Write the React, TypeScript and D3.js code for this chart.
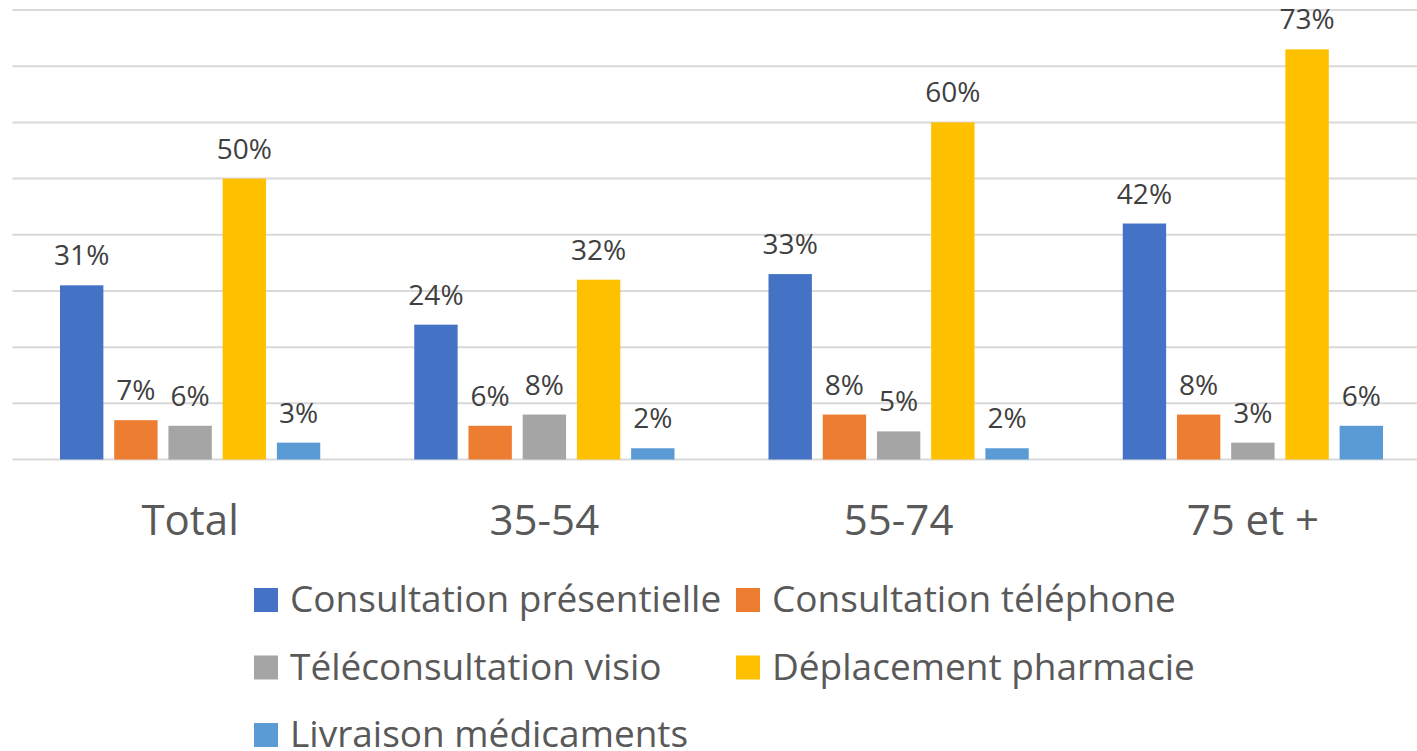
import React from "react";
import * as d3 from "d3";

const categories = ["Total", "35-54", "55-74", "75 et +"];
const seriesNames = [
  "Consultation présentielle",
  "Consultation téléphone",
  "Téléconsultation visio",
  "Déplacement pharmacie",
  "Livraison médicaments",
];
const consultationPresentielle = [31, 24, 33, 42];
const consultationTelephone = [7, 6, 8, 8];
const teleconsultationVisio = [6, 8, 5, 3];
const deplacementPharmacie = [50, 32, 60, 73];
const livraisonMedicaments = [3, 2, 2, 6];
const seriesValues = [
  consultationPresentielle,
  consultationTelephone,
  teleconsultationVisio,
  deplacementPharmacie,
  livraisonMedicaments,
];
const colors = ["#4472C4", "#ED7D31", "#A5A5A5", "#FFC000", "#5B9BD5"];
const gridTicks = [0, 10, 20, 30, 40, 50, 60, 70, 80];

const W = 1417;
const H = 751;
const FONT = "'Open Sans', 'Noto Sans', sans-serif";

export default function App() {
  const x0 = d3.scaleBand<string>().domain(categories).range([13, 1430]).paddingInner(0).paddingOuter(0);
  const x1 = d3
    .scaleBand<number>()
    .domain(d3.range(seriesNames.length))
    .range([47, x0.bandwidth() - 47])
    .paddingInner(0.2)
    .paddingOuter(0);
  const y = d3.scaleLinear().domain([0, 80]).range([459.5, 10]);

  const legendItems = [
    { i: 0, x: 254, row: 0 },
    { i: 1, x: 736, row: 0 },
    { i: 2, x: 254, row: 1 },
    { i: 3, x: 736, row: 1 },
    { i: 4, x: 254, row: 2 },
  ];

  return (
    <svg
      width={W}
      height={H}
      style={{ position: "absolute", left: 0, top: 0, background: "#fff" }}
      fontFamily={FONT}
    >
      <rect width={W} height={H} fill="#fff" />
      {gridTicks.map((t) => (
        <line key={t} x1={12.5} x2={W} y1={y(t)} y2={y(t)} stroke="#D9D9D9" strokeWidth={2} />
      ))}
      {categories.map((c, ci) => (
        <g key={c} transform={`translate(${x0(c)},0)`}>
          {seriesValues.map((vals, si) => {
            const v = vals[ci];
            const bx = x1(si)!;
            return (
              <g key={si}>
                <rect x={bx} y={y(v)} width={x1.bandwidth()} height={y(0) - y(v)} fill={colors[si]} />
                <text
                  x={bx + x1.bandwidth() / 2}
                  y={y(v) - 20}
                  textAnchor="middle"
                  fontSize={28}
                  fill="#404040"
                >
                  {v}%
                </text>
              </g>
            );
          })}
          <text x={x0.bandwidth() / 2} y={535} textAnchor="middle" fontSize={42} fill="#595959">
            {c}
          </text>
        </g>
      ))}
      {legendItems.map((it) => {
        const ly = 600 + it.row * 67.5;
        return (
          <g key={it.i}>
            <rect x={it.x} y={ly - 12} width={24} height={24} fill={colors[it.i]} />
            <text x={it.x + 36} y={ly + 12} fontSize={37} fill="#595959">
              {seriesNames[it.i]}
            </text>
          </g>
        );
      })}
    </svg>
  );
}
